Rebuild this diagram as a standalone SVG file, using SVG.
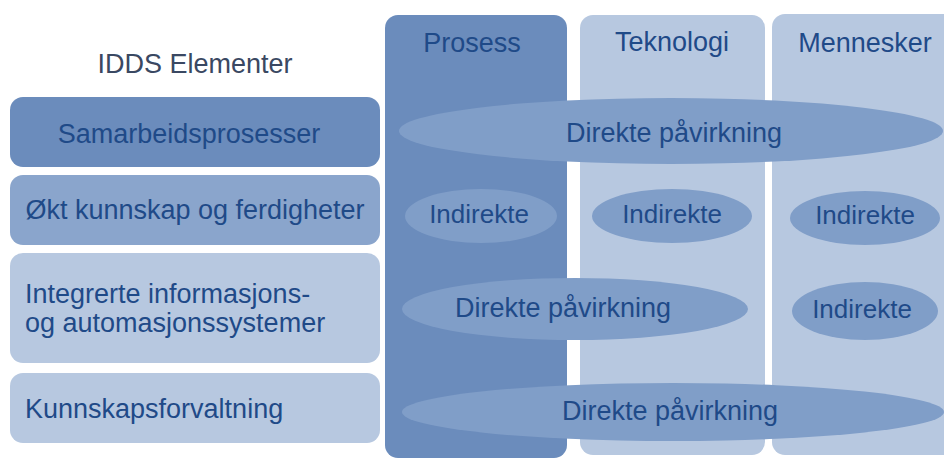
<svg xmlns="http://www.w3.org/2000/svg" width="944" height="460" viewBox="0 0 944 460">
<style>
text{font-family:"Liberation Sans",Arial,sans-serif;font-size:27px;fill:#1f4a88}
.hdr{fill:#3a4862}
.c{text-anchor:middle}
.dark{fill:#6b8cbc}
.mid{fill:#8aa5cc}
.light{fill:#b7c8e0}
.ell{fill:#809ec8}
.ind{font-size:26px}
</style>
<rect width="944" height="460" fill="#ffffff"/>
<g id="header-idds"><text class="hdr c" x="195" y="73">IDDS Elementer</text></g>
<g id="elem-samarbeid"><rect class="dark" x="10" y="97" width="370" height="70" rx="13"/><text class="c" x="189" y="143">Samarbeidsprosesser</text></g>
<g id="elem-okt"><rect class="mid" x="10" y="175" width="370" height="70" rx="13"/><text class="c" x="195" y="219">Økt kunnskap og ferdigheter</text></g>
<g id="elem-integrerte"><rect class="light" x="10" y="253" width="370" height="110" rx="13"/><text x="25" y="303">Integrerte informasjons-</text><text x="25" y="332">og automasjonssystemer</text></g>
<g id="elem-kunnskap"><rect class="light" x="10" y="373" width="370" height="70" rx="13"/><text x="25" y="418">Kunnskapsforvaltning</text></g>
<g id="col-prosess"><rect class="dark" x="385" y="15" width="182" height="443" rx="13"/><text class="c" x="472" y="52">Prosess</text></g>
<g id="col-teknologi"><rect class="light" x="580" y="15" width="185" height="440" rx="13"/><text class="c" x="672" y="51">Teknologi</text></g>
<g id="col-mennesker"><rect class="light" x="772" y="14" width="190" height="441" rx="13"/><text class="c" x="865" y="52">Mennesker</text></g>
<g id="ell-direkte-1"><ellipse class="ell" cx="671" cy="131" rx="272" ry="33"/><text class="c" x="674" y="142">Direkte påvirkning</text></g>
<g id="ell-ind-prosess"><ellipse class="ell" cx="481" cy="216" rx="76" ry="27"/><text class="c ind" x="479" y="223">Indirekte</text></g>
<g id="ell-ind-teknologi"><ellipse class="ell" cx="672" cy="216" rx="80" ry="27"/><text class="c ind" x="672" y="223">Indirekte</text></g>
<g id="ell-ind-mennesker-1"><ellipse class="ell" cx="865" cy="218" rx="75" ry="27"/><text class="c ind" x="865" y="224">Indirekte</text></g>
<g id="ell-direkte-2"><ellipse class="ell" cx="575" cy="309" rx="173" ry="31"/><text class="c" x="563" y="317">Direkte påvirkning</text></g>
<g id="ell-ind-mennesker-2"><ellipse class="ell" cx="865" cy="311" rx="73" ry="29"/><text class="c ind" x="862" y="318">Indirekte</text></g>
<g id="ell-direkte-3"><ellipse class="ell" cx="673" cy="412" rx="271" ry="29"/><text class="c" x="670" y="420">Direkte påvirkning</text></g>
</svg>
